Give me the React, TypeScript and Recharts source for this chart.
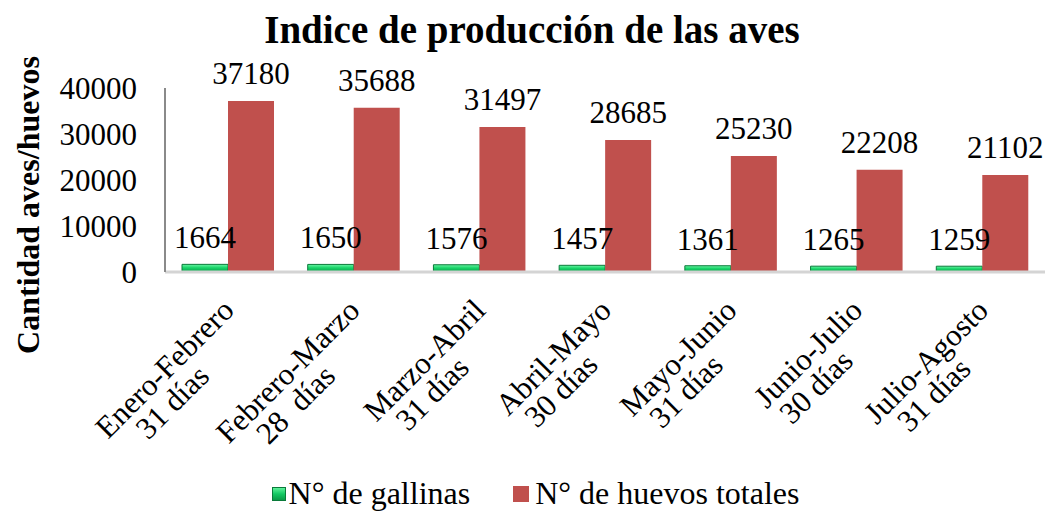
import { BarChart, Bar, XAxis, YAxis, Legend, LabelList } from 'recharts';

const PERIODS = ['Enero-Febrero', 'Febrero-Marzo', 'Marzo-Abril', 'Abril-Mayo', 'Mayo-Junio', 'Junio-Julio', 'Julio-Agosto'];
const DAYS = ['31 días', '28  días', '31 días', '30 días', '31 días', '30 días', '31 días'];
const GALLINAS = [1664, 1650, 1576, 1457, 1361, 1265, 1259];
const HUEVOS = [37180, 35688, 31497, 28685, 25230, 22208, 21102];
const Y_TICKS = [0, 10000, 20000, 30000, 40000];

const FONT = 'Liberation Serif';
const RED = '#C0504D';

const data = PERIODS.map((p, i) => ({
  name: p,
  days: DAYS[i],
  gallinas: GALLINAS[i],
  huevos: HUEVOS[i],
}));

let ctx: CanvasRenderingContext2D | null = null;
function textWidth(s: string, size: number) {
  if (!ctx) ctx = document.createElement('canvas').getContext('2d');
  if (!ctx) return s.length * size * 0.45;
  ctx.font = `${size}px "${FONT}"`;
  return ctx.measureText(s).width;
}

// two-line rotated category label, second line centred under the first
const XTick = ({ x, y, payload, index }: any) => {
  const size = 31;
  const l1 = payload.value as string;
  const l2 = DAYS[index];
  const w1 = textWidth(l1, size);
  const end = -8;
  return (
    <g transform={`translate(${x - 7},${y + 12})`}>
      <text transform="rotate(-45)" style={{ fontFamily: FONT, whiteSpace: 'pre' }} fontSize={size} fill="#000">
        <tspan x={end} y={29} textAnchor="end">{l1}</tspan>
        <tspan x={end - w1 / 2 - 18} y={58} textAnchor="middle">{l2}</tspan>
      </text>
    </g>
  );
};

const LegendContent = () => (
  <div style={{ display: 'flex', justifyContent: 'center', alignItems: 'center', fontFamily: FONT, fontSize: 32, color: '#000', paddingRight: 34, paddingTop: 8 }}>
    <span style={{ display: 'inline-block', width: 12, height: 12, marginRight: 3, background: 'linear-gradient(#5ef09a, #13c862 50%, #0a9a48)', border: '1px solid #0a7a3a' }} />
    <span style={{ marginRight: 43 }}>N° de gallinas</span>
    <span style={{ display: 'inline-block', width: 16, height: 16, marginRight: 6, background: RED }} />
    <span>N° de huevos totales</span>
  </div>
);

const labelStyle = { fontFamily: FONT, fontSize: 31, fill: '#000' };

export default function App() {
  return (
    <div style={{ position: 'absolute', left: 0, top: 0, width: 1054, height: 515, background: '#fff', fontFamily: FONT }}>
      <div style={{ position: 'absolute', left: 0, width: 1064, top: 9, textAlign: 'center', fontFamily: FONT, fontWeight: 'bold', fontSize: 39, lineHeight: '42px', color: '#000' }}>
        Indice de producción de las aves
      </div>
      <div style={{ position: 'absolute', left: 28, top: 205, transform: 'translate(-50%, -50%) rotate(-90deg)', whiteSpace: 'nowrap', fontFamily: FONT, fontWeight: 'bold', fontSize: 32, color: '#000' }}>
        Cantidad aves/huevos
      </div>
      <BarChart
        width={1054}
        height={515}
        data={data}
        margin={{ top: 88, right: 9, left: 60, bottom: 0 }}
        barGap={0}
        barSize={46}
        style={{ position: 'absolute', left: 0, top: 0, fontFamily: FONT }}
      >
        <defs>
          <linearGradient id="greenGrad" x1="0" y1="0" x2="0" y2="1">
            <stop offset="0%" stopColor="#6af5a4" />
            <stop offset="45%" stopColor="#18d468" />
            <stop offset="100%" stopColor="#0a9a48" />
          </linearGradient>
        </defs>
        <XAxis
          dataKey="name"
          interval={0}
          tick={<XTick />}
          tickLine={false}
          tickSize={0}
          axisLine={{ stroke: '#d4d4d4', strokeWidth: 3 }}
          height={195}
        />
        <YAxis
          domain={[0, 40000]}
          ticks={Y_TICKS}
          width={105}
          tickLine={false}
          tickSize={0}
          tickMargin={28}
          axisLine={{ stroke: '#8a8a8a', strokeWidth: 2 }}
          tick={labelStyle}
        />
        <Legend verticalAlign="bottom" height={48} content={<LegendContent />} />
        <Bar dataKey="gallinas" fill="url(#greenGrad)" stroke="#0a7a3a" strokeWidth={1} isAnimationActive={false}>
          <LabelList dataKey="gallinas" position="top" offset={16} style={labelStyle} />
        </Bar>
        <Bar dataKey="huevos" fill={RED} isAnimationActive={false}>
          <LabelList dataKey="huevos" position="top" offset={17} style={labelStyle} />
        </Bar>
      </BarChart>
    </div>
  );
}
